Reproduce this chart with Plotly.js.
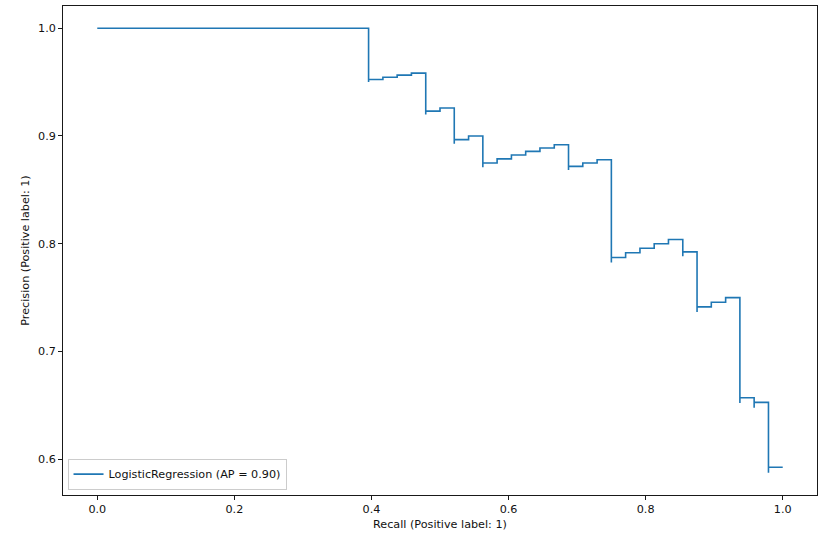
<!DOCTYPE html>
<html>
<head>
<meta charset="utf-8">
<script src="https://cdn.plot.ly/plotly-3.0.1.min.js"></script>
<style>html,body{margin:0;padding:0;background:#fff;}#chart{width:833px;height:535px;}</style>
</head>
<body>
<div id="chart"></div>
<script>
// Precision-recall curve points (sklearn order: recall decreasing)
var recall = [1.0, 0.9792, 0.9792, 0.9583, 0.9583, 0.9375, 0.9375, 0.9167, 0.8958, 0.875,
  0.875, 0.8542, 0.8542, 0.8333, 0.8125, 0.7917, 0.7708, 0.75, 0.75, 0.7292,
  0.7083, 0.6875, 0.6875, 0.6667, 0.6458, 0.625, 0.6042, 0.5833, 0.5625, 0.5625,
  0.5417, 0.5208, 0.5208, 0.5, 0.4792, 0.4792, 0.4583, 0.4375, 0.4167, 0.3958,
  0.3958, 0.0];
var precision = [0.5926, 0.5875, 0.6528, 0.6479, 0.6571, 0.6522, 0.75, 0.7458, 0.7414, 0.7368,
  0.7925, 0.7885, 0.8039, 0.8, 0.7959, 0.7917, 0.7872, 0.7826, 0.878, 0.875,
  0.8718, 0.8684, 0.8919, 0.8889, 0.8857, 0.8824, 0.8788, 0.875, 0.871, 0.9,
  0.8966, 0.8929, 0.9259, 0.9231, 0.92, 0.9583, 0.9565, 0.9545, 0.9524, 0.95,
  1.0, 1.0];
var seriesName = 'LogisticRegression (AP = 0.90)';
var xTicks = [0.0, 0.2, 0.4, 0.6, 0.8, 1.0];
var yTicks = [0.6, 0.7, 0.8, 0.9, 1.0];

var font = {family: 'DejaVu Sans', size: 11.2, color: '#111'};
var trace = {
  x: recall, y: precision, type: 'scatter', mode: 'lines',
  line: {shape: 'hv', color: '#1f77b4', width: 1.6},
  name: seriesName, showlegend: true
};
var axisCommon = {
  showline: true, mirror: true, linecolor: '#000', linewidth: 0.9,
  ticks: 'outside', ticklen: 4, tickwidth: 0.9, tickcolor: '#000',
  showgrid: false, zeroline: false, tickformat: '.1f', tickfont: font
};
var layout = {
  width: 833, height: 535,
  margin: {l: 63, r: 16, t: 6, b: 40, pad: 0},
  paper_bgcolor: '#fff', plot_bgcolor: '#fff',
  font: font,
  xaxis: Object.assign({}, axisCommon, {
    range: [-0.05, 1.05], tickvals: xTicks,
    title: {text: 'Recall (Positive label: 1)', font: font, standoff: 4}
  }),
  yaxis: Object.assign({}, axisCommon, {
    range: [0.5669, 1.0206], tickvals: yTicks,
    title: {text: 'Precision (Positive label: 1)', font: font, standoff: 6}
  }),
  legend: {
    x: 0.006, y: 0.011, xanchor: 'left', yanchor: 'bottom',
    bgcolor: 'rgba(255,255,255,0.8)', bordercolor: '#cccccc', borderwidth: 1,
    font: font, itemwidth: 30, tracegroupgap: 0
  },
  showlegend: true
};
Plotly.newPlot('chart', [trace], layout, {displayModeBar: false, staticPlot: true});
</script>
</body>
</html>
